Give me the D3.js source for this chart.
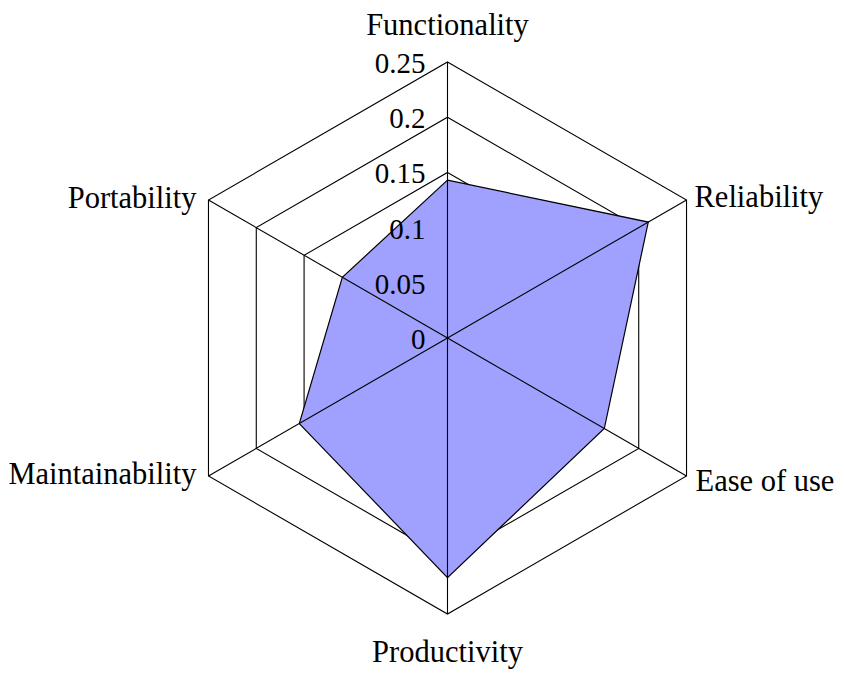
<!DOCTYPE html>
<html><head><meta charset="utf-8">
<script src="https://cdn.jsdelivr.net/npm/d3@7"></script>
<style>body{margin:0;background:#fff}svg{display:block}text{font-family:"Liberation Serif","Times New Roman",serif}</style>
</head><body>
<svg id="c" width="845" height="673"></svg>
<script>
const categories = ["Functionality","Reliability","Ease of use","Productivity","Maintainability","Portability"];
const values = [0.143, 0.210, 0.164, 0.217, 0.155, 0.110];
const ticks = [0, 0.05, 0.1, 0.15, 0.2, 0.25];
const tickLabels = ["0","0.05","0.1","0.15","0.2","0.25"];

const svg = d3.select("#c");
const cx = 447.5, cy = 338, R = 276;
const r = d3.scaleLinear().domain([0, 0.25]).range([0, R]);
const ang = d3.scaleLinear().domain([0, categories.length]).range([-Math.PI/2, 1.5*Math.PI]);
const pt = (i, v) => [cx + r(v)*Math.cos(ang(i)), cy + r(v)*Math.sin(ang(i))];

// grid rings (beneath fill)
ticks.slice(1).forEach(t=>{
  svg.append("path")
    .attr("d", d3.line()(categories.map((c,i)=>pt(i,t))) + "Z")
    .attr("fill","none").attr("stroke","#000").attr("stroke-width",1.1);
});

// data polygon
svg.append("path")
  .attr("d", d3.line()(values.map((v,i)=>pt(i,v))) + "Z")
  .attr("fill", "#a0a0ff").attr("stroke", "#000").attr("stroke-width",1.2);

// spokes
categories.forEach((c,i)=>{
  const p = pt(i, 0.25);
  svg.append("line").attr("x1",cx).attr("y1",cy).attr("x2",p[0]).attr("y2",p[1])
    .attr("stroke","#000").attr("stroke-width",1.1);
});

// tick labels
ticks.forEach((t,k)=>{
  svg.append("text").attr("x", cx-22).attr("y", cy - r(t) + 11)
    .attr("text-anchor","end").attr("font-size",29)
    .text(tickLabels[k]);
});

// category labels
const lab = [
  {a:"middle", dx:0, dy:-27},
  {a:"start", dx:8, dy:7},
  {a:"start", dx:9, dy:15},
  {a:"middle", dx:0, dy:48},
  {a:"end", dx:-12, dy:8},
  {a:"end", dx:-12, dy:8}
];
categories.forEach((c,i)=>{
  const p = pt(i, 0.25);
  svg.append("text").attr("x", p[0]+lab[i].dx).attr("y", p[1]+lab[i].dy)
    .attr("text-anchor", lab[i].a).attr("font-size",30.5)
    .text(c);
});
</script>
</body></html>
